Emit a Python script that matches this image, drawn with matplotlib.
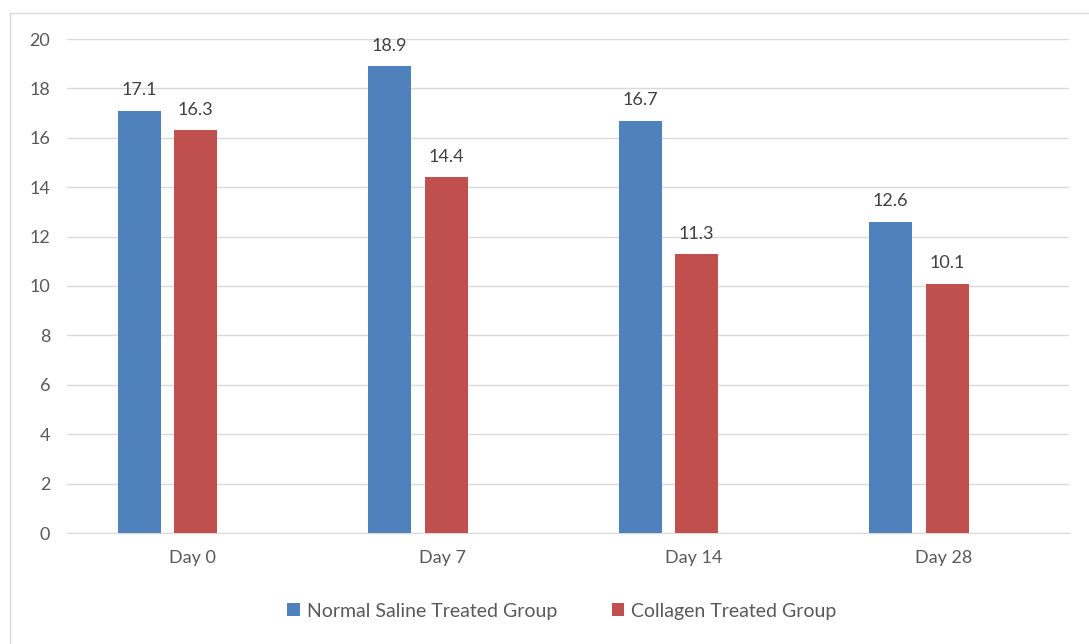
import matplotlib.pyplot as plt
from matplotlib.patches import Rectangle
import numpy as np

categories = ["Day 0", "Day 7", "Day 14", "Day 28"]
saline = [17.1, 18.9, 16.7, 12.6]
collagen = [16.3, 14.4, 11.3, 10.1]
series_names = ["Normal Saline Treated Group", "Collagen Treated Group"]

blue = "#4f81bd"
red = "#c0504d"
txt = "#595959"

plt.rcParams['font.family'] = ['Lato', 'DejaVu Sans']

fig = plt.figure(figsize=(10.89, 6.44), dpi=100)
# outer chart border
fig.patches.append(Rectangle((10 / 1089, -0.1), 1.2, (644 - 13) / 644 + 0.1,
                             transform=fig.transFigure, fill=False,
                             edgecolor="#d9d9d9", linewidth=1))

ax = fig.add_axes([67 / 1089, 111 / 644, 1002 / 1089, 494 / 644])
x = np.arange(len(categories))
w = 0.172
b1 = ax.bar(x - 0.212, saline, w, color=blue, label=series_names[0], zorder=3)
b2 = ax.bar(x + 0.014, collagen, w, color=red, label=series_names[1], zorder=3)

for bars in (b1, b2):
    for r in bars:
        ax.text(r.get_x() + r.get_width() / 2, r.get_height() + 0.5,
                f"{r.get_height():.1f}", ha="center", va="bottom",
                fontsize=13, color="#404040")

ax.set_xlim(-0.5, 3.5)
ax.set_ylim(0, 20)
ax.set_yticks(range(0, 21, 2))
ax.set_xticks(x)
ax.set_xticklabels(categories)
ax.grid(axis="y", color="#d9d9d9", linewidth=1, zorder=0)
for s in ("top", "right", "left"):
    ax.spines[s].set_visible(False)
ax.spines["bottom"].set_color("#d9d9d9")
ax.tick_params(axis="both", length=0, labelsize=13, labelcolor=txt)
ax.tick_params(axis="y", pad=12)
ax.tick_params(axis="x", pad=12)

fig.legend(handles=[b1, b2], loc="center", bbox_to_anchor=(562 / 1089, (644 - 611) / 644),
           ncol=2, frameon=False, fontsize=14, handlelength=0.65, handleheight=0.65,
           handletextpad=0.35, columnspacing=2.8, labelcolor=txt)

fig.savefig("out.png", dpi=100, facecolor="white")
